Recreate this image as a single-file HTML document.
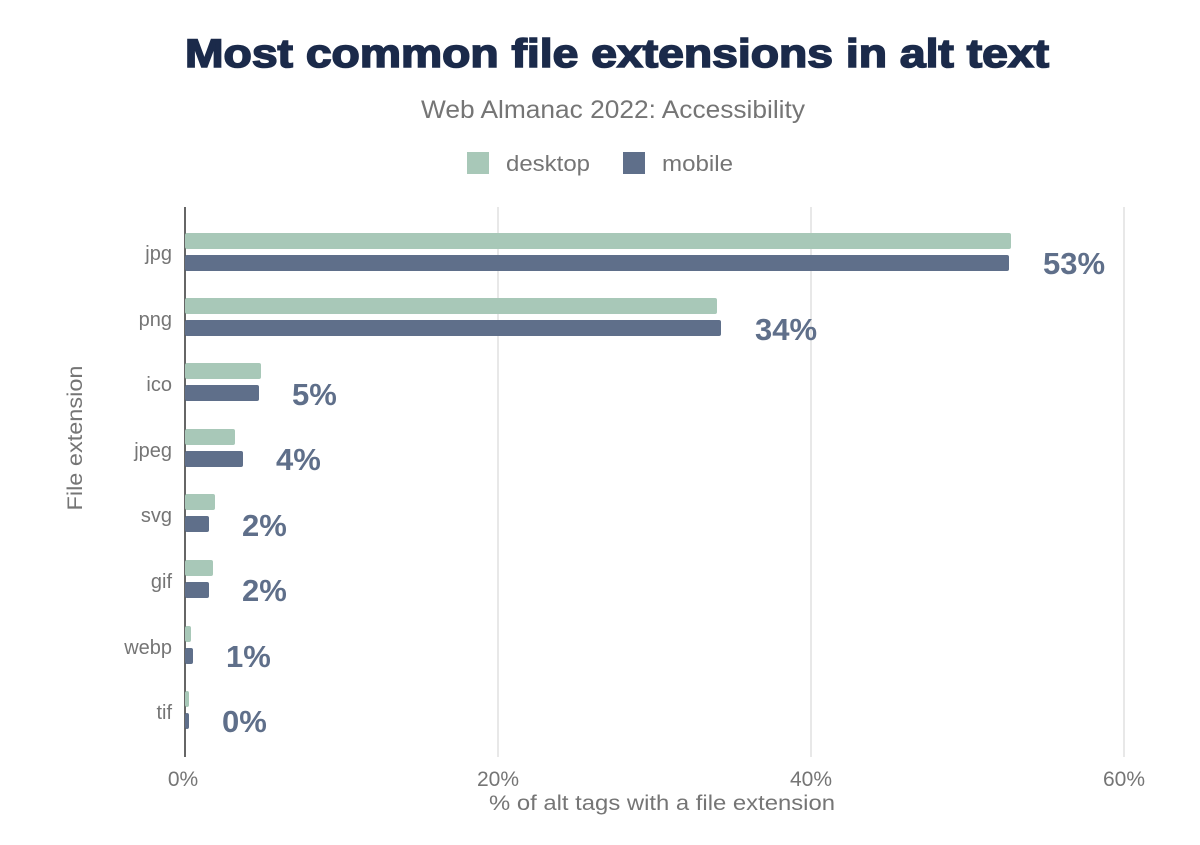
<!DOCTYPE html>
<html><head><meta charset="utf-8"><style>
body{margin:0;background:#fff;width:1200px;height:840px;overflow:hidden;font-family:"Liberation Sans",Arial,sans-serif;}
</style></head><body>
<svg width="1200" height="840" xmlns="http://www.w3.org/2000/svg" font-family="Liberation Sans, Arial, sans-serif">
<rect width="1200" height="840" fill="#fff"/>
<text x="185" y="67" font-size="40" font-weight="bold" fill="#1b2a4a" stroke="#1b2a4a" stroke-width="1.6" textLength="864" lengthAdjust="spacingAndGlyphs">Most common file extensions in alt text</text>
<text x="613" y="118" text-anchor="middle" font-size="25" fill="#757575" textLength="384" lengthAdjust="spacingAndGlyphs">Web Almanac 2022: Accessibility</text>
<rect x="467" y="152" width="22" height="22" fill="#a8c8b8"/>
<text x="506" y="171" font-size="22" fill="#757575" textLength="84" lengthAdjust="spacingAndGlyphs">desktop</text>
<rect x="623" y="152" width="22" height="22" fill="#5f6f8a"/>
<text x="662" y="171" font-size="22" fill="#757575" textLength="71" lengthAdjust="spacingAndGlyphs">mobile</text>
<g stroke="#e8e8e8" stroke-width="2">
<line x1="498" y1="207" x2="498" y2="757"/><line x1="811" y1="207" x2="811" y2="757"/><line x1="1124" y1="207" x2="1124" y2="757"/>
</g>
<line x1="185" y1="207" x2="185" y2="757" stroke="#333" stroke-width="1.5"/>
<g font-size="21" fill="#757575" text-anchor="middle">
<text x="183" y="786">0%</text><text x="498" y="786">20%</text><text x="811" y="786">40%</text><text x="1124" y="786">60%</text>
<text x="662" y="810" textLength="346" lengthAdjust="spacingAndGlyphs">% of alt tags with a file extension</text>
<text transform="translate(82,438) rotate(-90)" textLength="145" lengthAdjust="spacingAndGlyphs">File extension</text>
</g>
<g font-size="20" fill="#757575" text-anchor="end">
<text x="172" y="260">jpg</text><text x="172" y="326">png</text><text x="172" y="391">ico</text><text x="172" y="457">jpeg</text>
<text x="172" y="522">svg</text><text x="172" y="588">gif</text><text x="172" y="654">webp</text><text x="172" y="719">tif</text>
</g>
<g fill="#a8c8b8">
<rect x="185" y="233" width="826" height="16" rx="2"/>
<rect x="185" y="298" width="532" height="16" rx="2"/>
<rect x="185" y="363" width="76" height="16" rx="2"/>
<rect x="185" y="429" width="50" height="16" rx="2"/>
<rect x="185" y="494" width="30" height="16" rx="2"/>
<rect x="185" y="560" width="28" height="16" rx="2"/>
<rect x="185" y="626" width="6" height="16" rx="2"/>
<rect x="185" y="691" width="4" height="16" rx="2"/>
</g>
<g fill="#5f6f8a">
<rect x="185" y="255" width="824" height="16" rx="2"/>
<rect x="185" y="320" width="536" height="16" rx="2"/>
<rect x="185" y="385" width="74" height="16" rx="2"/>
<rect x="185" y="451" width="58" height="16" rx="2"/>
<rect x="185" y="516" width="24" height="16" rx="2"/>
<rect x="185" y="582" width="24" height="16" rx="2"/>
<rect x="185" y="648" width="8" height="16" rx="2"/>
<rect x="185" y="713" width="4" height="16" rx="2"/>
</g>
<g font-size="31" font-weight="bold" fill="#5f6f8a">
<text x="1043" y="274">53%</text><text x="755" y="340">34%</text><text x="292" y="405">5%</text><text x="276" y="470">4%</text>
<text x="242" y="536">2%</text><text x="242" y="601">2%</text><text x="226" y="667">1%</text><text x="222" y="732">0%</text>
</g>
</svg>
</body></html>
